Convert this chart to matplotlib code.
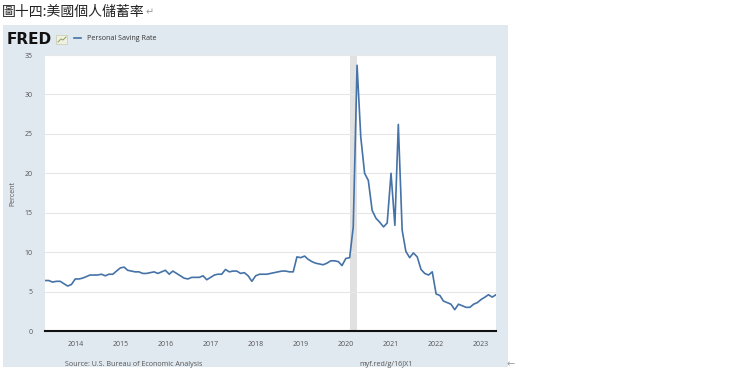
import numpy as np
import pandas as pd
import matplotlib
matplotlib.use('Agg')
import matplotlib.pyplot as plt
from matplotlib.patches import Rectangle
from matplotlib.lines import Line2D

# 個人儲蓄率 (月資料, 2013-05 ~ 2023-05)
start = '2013-05-01'
saving_rate = [
    6.4, 6.4, 6.2, 6.3, 6.3, 6.0, 5.7, 5.9,                              # 2013
    6.6, 6.6, 6.7, 6.9, 7.1, 7.1, 7.1, 7.2, 7.0, 7.2, 7.2, 7.6,          # 2014
    8.0, 8.1, 7.7, 7.6, 7.5, 7.5, 7.3, 7.3, 7.4, 7.5, 7.3, 7.5,          # 2015
    7.7, 7.2, 7.6, 7.3, 7.0, 6.7, 6.6, 6.8, 6.8, 6.8, 7.0, 6.5,          # 2016
    6.8, 7.1, 7.2, 7.2, 7.8, 7.5, 7.6, 7.6, 7.3, 7.4, 7.0, 6.3,          # 2017
    7.0, 7.2, 7.2, 7.2, 7.3, 7.4, 7.5, 7.6, 7.6, 7.5, 7.5, 9.4,          # 2018
    9.3, 9.5, 9.1, 8.8, 8.6, 8.5, 8.4, 8.6, 8.9, 8.9, 8.8, 8.3,          # 2019
    9.2, 9.3, 13.2, 33.7, 24.6, 20.0, 19.1, 15.3, 14.3, 13.8, 13.2, 13.7,  # 2020
    20.0, 13.4, 26.2, 12.8, 10.1, 9.3, 9.9, 9.4, 7.8, 7.3, 7.1, 7.5,     # 2021
    4.7, 4.5, 3.8, 3.6, 3.4, 2.7, 3.4, 3.2, 3.0, 3.0, 3.4, 3.6,          # 2022
    4.0, 4.3, 4.6, 4.3, 4.6,                                             # 2023
]
dates = pd.date_range(start, periods=len(saving_rate), freq='MS')

recession_start = pd.Timestamp('2020-02-01')
recession_end = pd.Timestamp('2020-04-01')

years = list(range(2014, 2024))
yticks = [0, 5, 10, 15, 20, 25, 30, 35]

W, H = 740, 372
fig = plt.figure(figsize=(W / 100, H / 100), dpi=100)
plt.rcParams['font.family'] = ['Open Sans', 'DejaVu Sans']

# 標題
fig.text(2 / W, 1 - 12 / H, '圖十四:美國個人儲蓄率', fontsize=10, va='center', ha='left',
         family=['Noto Sans CJK TC', 'DejaVu Sans'], color='#222222')
fig.text(146 / W, 1 - 12 / H, '↵', fontsize=7, va='center', ha='left',
         family=['DejaVu Sans'], color='#999999')

# FRED 面板背景
panel_x0, panel_x1, panel_y0, panel_y1 = 3, 508, 25, 367
fig.patches.append(Rectangle((panel_x0 / W, 1 - panel_y1 / H),
                             (panel_x1 - panel_x0) / W, (panel_y1 - panel_y0) / H,
                             transform=fig.transFigure, facecolor='#e1e9f0',
                             edgecolor='none', zorder=-5))

# 繪圖區
ax_l, ax_r, ax_t, ax_b = 45, 496, 55, 331
ax = fig.add_axes([ax_l / W, 1 - ax_b / H, (ax_r - ax_l) / W, (ax_b - ax_t) / H])
ax.set_zorder(1)
ax.set_facecolor('white')

ax.axvspan(recession_start, recession_end, color='#e1e1e1', lw=0, zorder=1)
line, = ax.plot(dates, saving_rate, color='#4572a7', lw=1.2, zorder=3,
                label='Personal Saving Rate')

ax.set_xlim(dates[0], dates[-1])
ax.set_ylim(0, 35)
ax.set_yticks(yticks)
ax.set_xticks([pd.Timestamp(f'{y}-01-01') for y in years])
ax.set_xticklabels([str(y) for y in years])
ax.tick_params(axis='both', length=0, labelsize=5, colors='#555555')
ax.tick_params(axis='y', pad=9)
ax.tick_params(axis='x', pad=7)
ax.grid(axis='y', color='#e6e6e6', lw=0.8, zorder=0)
for s in ['top', 'right', 'left']:
    ax.spines[s].set_visible(False)
ax.spines['bottom'].set_color('#111111')
ax.spines['bottom'].set_linewidth(1.5)
ax.spines['bottom'].set_zorder(4)
ax.set_ylabel('Percent', fontsize=5, color='#555555', labelpad=6)

# FRED 標誌與圖例
fig.text(7 / W, 1 - 39 / H, 'FRED', fontsize=11, fontweight='heavy', va='center',
         ha='left', color='#111111', family=['DejaVu Sans'])
fig.patches.append(Rectangle((56 / W, 1 - 44 / H), 11 / W, 9 / H, transform=fig.transFigure,
                             facecolor='#eef0e2', edgecolor='#c8cca8', lw=0.5, zorder=2))
fig.lines.append(Line2D([58 / W, 61 / W, 63 / W, 66 / W], [1 - 42 / H, 1 - 39 / H, 1 - 40 / H, 1 - 37 / H],
                        transform=fig.transFigure, color='#8fa060', lw=0.7, zorder=3))
fig.legend(handles=[line], loc='center left', bbox_to_anchor=(68 / W, 1 - 39 / H),
           frameon=False, fontsize=5.1, handlelength=1.0, handletextpad=0.8,
           labelcolor='#333333')

# 底部文字
fig.text(65 / W, 1 - 364 / H, 'Source: U.S. Bureau of Economic Analysis', fontsize=5.1,
         va='center', ha='left', color='#555555')
fig.text(386 / W, 1 - 364 / H, 'myf.red/g/16JX1', fontsize=5.1, va='center', ha='center',
         color='#555555')
fig.text(511 / W, 1 - 364 / H, '←', fontsize=7, va='center', ha='center',
         family=['DejaVu Sans'], color='#999999')

fig.savefig('out.png', dpi=100)
